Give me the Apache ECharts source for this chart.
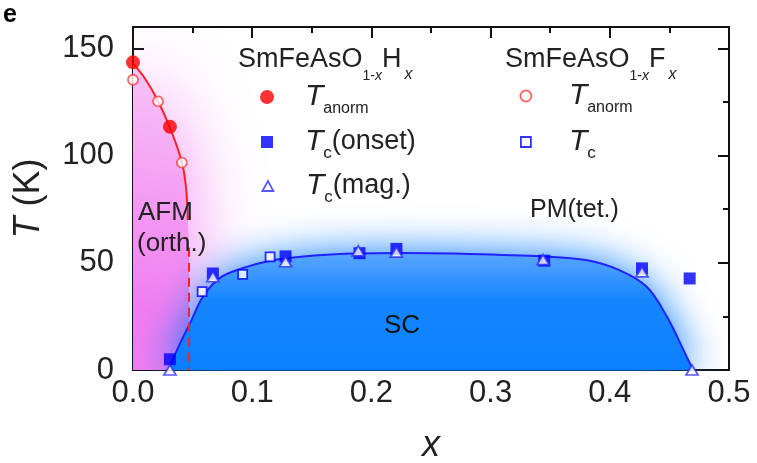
<!DOCTYPE html>
<html><head><meta charset="utf-8">
<script src="https://cdn.jsdelivr.net/npm/echarts@6/dist/echarts.min.js"></script>
<style>html,body{margin:0;padding:0;background:#fff}#c{width:757px;height:463px}</style>
</head><body><div id="c"></div>
<script>
// ---- data ----
const xTickLabels = ['0.0', '0.1', '0.2', '0.3', '0.4', '0.5'];
const yTicks = [0, 50, 100, 150];
const yMinorTicks = [25, 75, 125];
// SmFeAsO1-xHx
const hTanorm = [[0, 143.5], [0.031, 113.5]];
const hTcOnset = [[0.031, 5], [0.067, 45], [0.128, 53], [0.19, 54.5], [0.221, 56.5], [0.345, 51], [0.427, 47.4], [0.467, 42.7]];
const hTcMag = [[0.031, 0], [0.067, 43.5], [0.128, 50.5], [0.189, 55.6], [0.221, 55], [0.344, 51.5], [0.427, 45.8], [0.469, 0]];
// SmFeAsO1-xFx
const fTanorm = [[0, 135.4], [0.021, 125.3], [0.041, 96.7]];
const fTc = [[0.058, 36.6], [0.092, 44.6], [0.115, 52.8]];
// guide curves
const afmCurve = [[0, 143], [0.01, 136], [0.02, 126.5], [0.031, 113], [0.041, 97], [0.0445, 85], [0.046, 70]];
const afmRegion = [[0, 143], [0.01, 136], [0.02, 126.5], [0.031, 113], [0.041, 97], [0.0445, 85], [0.046, 70], [0.047, 57], [0.047, 0]];
const afmBoundary = [[0.047, 57], [0.047, 0]];
const scCurve = [[0.031, 2], [0.04, 13], [0.048, 22], [0.059, 34.5], [0.073, 43], [0.092, 47.5], [0.115, 51], [0.143, 53], [0.185, 54.3], [0.227, 54.6], [0.27, 54.3], [0.344, 53], [0.381, 51.2], [0.408, 46.6], [0.431, 38.8], [0.448, 24.8], [0.4645, 6.2], [0.47, 0]];

const FONT = '"Liberation Sans", Arial, sans-serif';
const INK = '#222';
const AX = '#111';

const chart = echarts.init(document.getElementById('c'), null, {renderer: 'canvas'});

const tickLine = {color: AX, width: 2};
function xAx(pos, labels) {
  return {
    type: 'value', min: 0, max: 0.5, interval: 0.1, position: pos,
    axisLine: {show: true, onZero: false, lineStyle: {color: AX, width: 2}},
    axisTick: {show: true, inside: true, length: 11, lineStyle: tickLine},
    minorTick: {show: true, splitNumber: 2, length: 6, lineStyle: tickLine},
    splitLine: {show: false}, minorSplitLine: {show: false},
    axisLabel: labels ? {show: true, formatter: v => xTickLabels[Math.round(v * 10)], fontSize: 31, fontFamily: FONT, color: INK, margin: 8} : {show: false},
    name: labels ? 'x' : '', nameLocation: 'middle', nameGap: 58,
    nameTextStyle: {fontSize: 36, fontStyle: 'italic', fontFamily: FONT, color: INK}
  };
}
function yAx(pos, values, len, labels, line) {
  return {
    type: 'value', min: 0, max: 160, interval: 50, position: pos,
    axisLine: {show: line, onZero: false, lineStyle: {color: AX, width: 2}},
    axisTick: {show: true, inside: true, length: len, customValues: values, lineStyle: tickLine},
    splitLine: {show: false},
    axisLabel: labels ? {show: true, customValues: yTicks, fontSize: 31, fontFamily: FONT, color: INK, margin: 19} : {show: false},
    name: labels ? '{i|T} (K)' : '', nameLocation: 'middle', nameGap: 86,
    nameTextStyle: {fontSize: 36, fontFamily: FONT, color: INK, rich: {i: {fontSize: 36, fontStyle: 'italic', fontFamily: FONT, color: INK}}}
  };
}

const names = {
  hA: 'H_Tanorm', hO: 'H_Tc_onset', hM: 'H_Tc_mag', fA: 'F_Tanorm', fC: 'F_Tc'
};
const labelText = {
  H_Tanorm: '{t|T}{sa|anorm}',
  H_Tc_onset: '{t|T}{sc|c}{n|(onset)}',
  H_Tc_mag: '{t|T}{sc|c}{n|(mag.)}',
  F_Tanorm: '{t|T}{sa|anorm}',
  F_Tc: '{t|T}{sc|c}'
};
function rich(padT) {
  return {
    t: {fontSize: 30, fontStyle: 'italic', fontFamily: FONT, color: INK, lineHeight: 40, padding: [0, 0, 0, padT]},
    sa: {fontSize: 16, fontFamily: FONT, color: INK, lineHeight: 14, verticalAlign: 'bottom'},
    sc: {fontSize: 17, fontFamily: FONT, color: INK, lineHeight: 6, verticalAlign: 'bottom'},
    n: {fontSize: 27, fontFamily: FONT, color: INK, lineHeight: 40}
  };
}
const styles = {
  H_Tanorm: {color: '#ff0000', borderColor: '#ff0000', borderWidth: 0},
  H_Tc_onset: {color: '#0000ff', borderColor: '#0000ff', borderWidth: 0},
  H_Tc_mag: {color: '#ffffff', borderColor: '#3030ff', borderWidth: 1.8},
  F_Tanorm: {color: '#ffffff', borderColor: '#ff4040', borderWidth: 1.8},
  F_Tc: {color: '#ffffff', borderColor: '#0000ff', borderWidth: 1.8}
};
function mkLegend(name, w, h, cx, cy, padT) {
  return {
    data: [name], left: cx - w / 2, top: cy - 14, padding: 0, itemWidth: w, itemHeight: h, itemGap: 0,
    selectedMode: false, formatter: () => labelText[name], itemStyle: styles[name],
    textStyle: {fontFamily: FONT, color: INK, rich: rich(padT)}
  };
}

const headRich = {
  m: {fontSize: 27, fontFamily: FONT, color: INK, lineHeight: 46},
  s: {fontSize: 14, fontFamily: FONT, color: INK, lineHeight: 16, verticalAlign: 'bottom'},
  si: {fontSize: 14, fontStyle: 'italic', fontFamily: FONT, color: INK, lineHeight: 16, verticalAlign: 'bottom'},
  sx: {fontSize: 16, fontStyle: 'italic', fontFamily: FONT, color: INK, lineHeight: 16, verticalAlign: 'bottom', padding: [0, 0, 0, 3]}
};

const option = {
  animation: false,
  backgroundColor: '#ffffff',
  grid: {left: 133, right: 28, top: 27, bottom: 93, containLabel: false, outerBoundsMode: 'none'},
  xAxis: [xAx('bottom', true), xAx('top', false)],
  yAxis: [yAx('left', yTicks, 11, true, true), yAx('left', yMinorTicks, 6, false, false),
          yAx('right', yTicks, 11, false, true), yAx('right', yMinorTicks, 6, false, false)],
  legend: [
    mkLegend(names.hA, 14, 14, 267, 96, 26),
    mkLegend(names.hO, 12, 12, 267, 141, 27),
    mkLegend(names.hM, 11, 10, 267, 185, 27.5),
    mkLegend(names.fA, 11, 11, 525, 95, 32.5),
    mkLegend(names.fC, 10, 10, 525, 141, 33)
  ],
  graphic: [
    {type: 'text', left: 3, top: 3, z: 100, style: {text: 'e', font: 'bold 25px ' + FONT, fill: '#000'}},
    {type: 'text', x: 238, y: 60, z: 100, style: {text: '{m|SmFeAsO}{s|1-}{si|x}{m|H}{sx|x}', rich: headRich, verticalAlign: 'middle', fill: INK}},
    {type: 'text', x: 505, y: 60, z: 100, style: {text: '{m|SmFeAsO}{s|1-}{si|x}{m|F}{sx|x}', rich: headRich, verticalAlign: 'middle', fill: INK}},
    {type: 'text', x: 138, y: 213, z: 100, style: {text: 'AFM', font: '26px ' + FONT, fill: INK, verticalAlign: 'middle'}},
    {type: 'text', x: 137, y: 244, z: 100, style: {text: '(orth.)', font: '26px ' + FONT, fill: INK, verticalAlign: 'middle'}},
    {type: 'text', x: 530, y: 210, z: 100, style: {text: 'PM(tet.)', font: '25px ' + FONT, fill: INK, verticalAlign: 'middle'}},
    {type: 'text', x: 384, y: 326, z: 100, style: {text: 'SC', font: '26px ' + FONT, fill: '#111', verticalAlign: 'middle'}}
  ],
  series: [
    {
      name: 'afmRegion', type: 'line', data: afmRegion, symbol: 'none', silent: true, z: 1,
      lineStyle: {width: 0, opacity: 0},
      areaStyle: {
        color: {type: 'linear', x: 0.8, y: 0, x2: 0, y2: 0.8, colorStops: [{offset: 0, color: '#f8c6f8'}, {offset: 0.5, color: '#f4a0f4'}, {offset: 1, color: '#f07cf0'}]},
        shadowBlur: 72, shadowColor: 'rgba(242,125,242,1)', opacity: 1
      }
    },
    {
      name: 'scRegion', type: 'line', data: scCurve, symbol: 'none', silent: true, z: 2, smooth: 0.35,
      lineStyle: {color: '#2222ff', width: 2},
      areaStyle: {
        color: {type: 'linear', x: 0, y: 0, x2: 0, y2: 1, colorStops: [{offset: 0, color: '#5aa6ff'}, {offset: 0.4, color: '#1686ff'}, {offset: 1, color: '#0a80ff'}]},
        shadowBlur: 42, shadowColor: 'rgba(10,125,255,1)', opacity: 1
      }
    },
    {name: 'afmCurve', type: 'line', data: afmCurve, symbol: 'none', silent: true, z: 3, smooth: 0.35, lineStyle: {color: '#ff2020', width: 2}},
    {name: 'afmBoundary', type: 'line', data: afmBoundary, symbol: 'none', silent: true, z: 3, lineStyle: {color: '#ff2020', width: 2, type: [9, 6]}},
    {name: names.hA, type: 'scatter', data: hTanorm, symbol: 'circle', symbolSize: 14, z: 5, itemStyle: styles.H_Tanorm},
    {name: names.fA, type: 'scatter', data: fTanorm, symbol: 'circle', symbolSize: 10, z: 5, itemStyle: styles.F_Tanorm},
    {name: names.fC, type: 'scatter', data: fTc, symbol: 'rect', symbolSize: 9, z: 5, itemStyle: styles.F_Tc},
    {name: names.hO, type: 'scatter', data: hTcOnset, symbol: 'rect', symbolSize: 12, z: 6, itemStyle: styles.H_Tc_onset},
    {name: names.hM, type: 'scatter', data: hTcMag, symbol: 'triangle', symbolSize: [12, 10], z: 7, itemStyle: styles.H_Tc_mag}
  ]
};
chart.setOption(option);
</script></body></html>
